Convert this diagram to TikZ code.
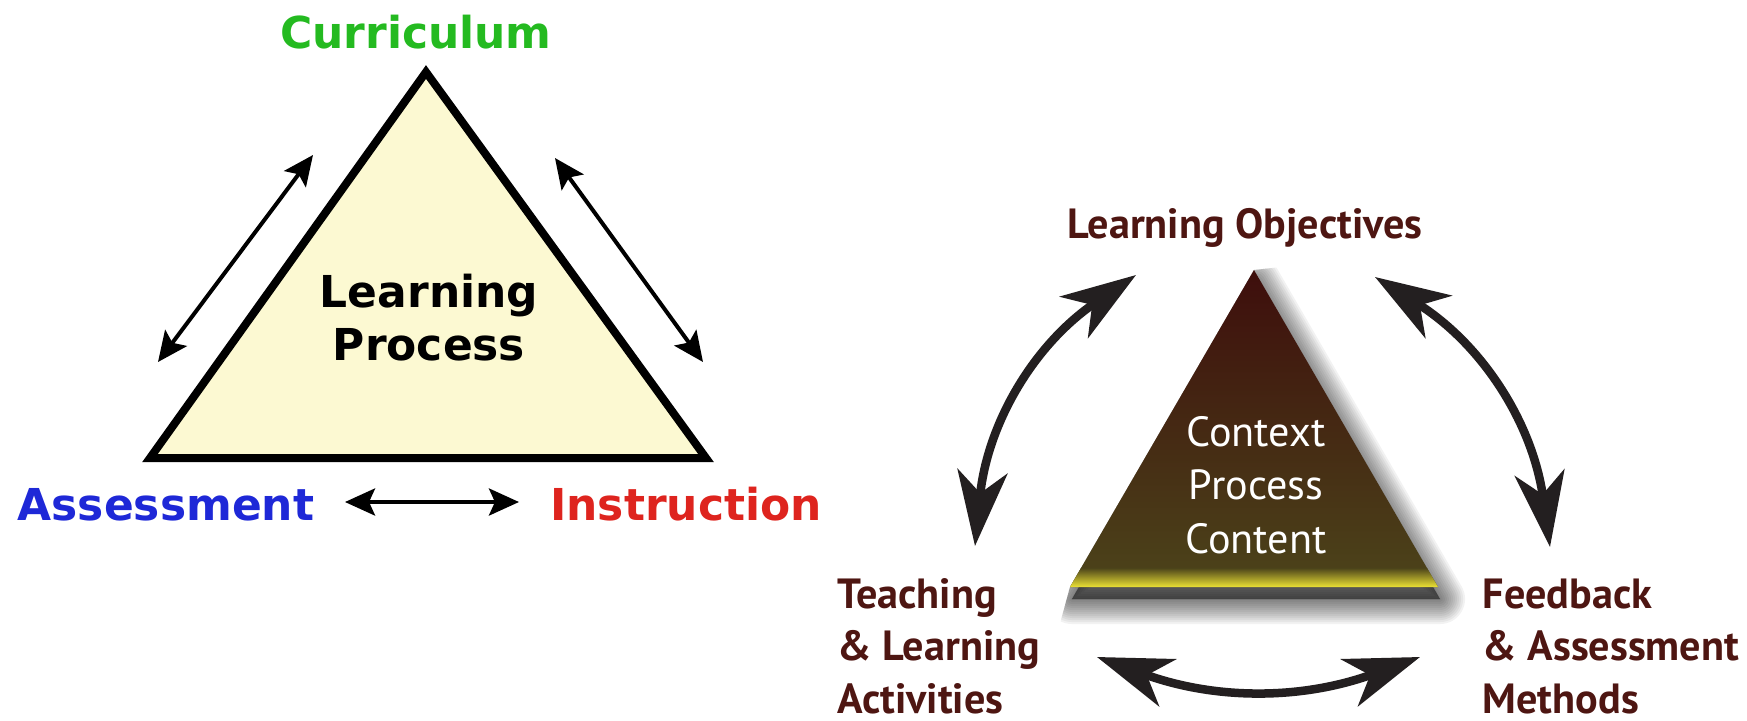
\documentclass[tikz,border=0pt]{standalone}
\usepackage{fontspec}
\setmainfont{PT Sans}
\newfontfamily\heavyfont{DejaVu Sans}
\usetikzlibrary{arrows.meta}
\definecolor{curgreen}{RGB}{36,186,32}
\definecolor{assblue}{RGB}{30,40,215}
\definecolor{insred}{RGB}{222,36,30}
\definecolor{paleyellow}{RGB}{252,249,210}
\definecolor{objbrown}{RGB}{78,22,18}
\definecolor{arrowgray}{RGB}{35,31,32}
\definecolor{trtop}{RGB}{62,14,12}
\definecolor{trmid}{RGB}{82,48,20}
\definecolor{trbot}{RGB}{76,68,26}
\definecolor{bandyellow}{RGB}{236,226,52}
\begin{document}
\begin{tikzpicture}[x = 0.01cm, y = -0.01cm,
        thinarrow/.style = {line width = 0.04cm, {Stealth[length=0.3cm, width=0.27cm, inset=0.06cm]}-{Stealth[length=0.3cm, width=0.27cm, inset=0.06cm]}},
        fatarrow/.style = {draw = arrowgray, line width = 0.085cm, {Stealth[length=0.75cm, width=0.5cm, inset=0.22cm]}-{Stealth[length=0.75cm, width=0.5cm, inset=0.22cm]}},
        lefttext/.style = {font = \heavyfont\bfseries\fontsize{12.5}{14.8}\selectfont, anchor = base},
        righttext/.style = {font = \bfseries\fontsize{12}{14.8}\selectfont, text = objbrown}]
            \useasboundingbox (0, 0) rectangle (1747, 720);
            \coordinate (ctop) at (426, 72);
            \coordinate (cleft) at (150, 458);
            \coordinate (cright) at (706, 458);
            \draw[line width = 0.08cm, fill = paleyellow, line join = miter] (ctop) -- (cleft) -- (cright) -- cycle;
            \node[lefttext, text = curgreen] (curr) at (416, 48) {Curriculum};
            \node[lefttext, align = center] (lproc) at (429, 360) {Learning\\Process};
            \node[lefttext, text = assblue] (assess) at (166, 520) {Assessment};
            \node[lefttext, text = insred] (instr) at (686, 520) {Instruction};
            \coordinate (la) at (158, 362); \coordinate (lb) at (313, 155);
            \coordinate (ra) at (555, 158); \coordinate (rb) at (703, 362);
            \coordinate (ba) at (345, 502); \coordinate (bb) at (519, 502);
            \draw[thinarrow] (la) -- (lb);
            \draw[thinarrow] (ra) -- (rb);
            \draw[thinarrow] (ba) -- (bb);
            \coordinate (rtop) at (1254, 270);
            \coordinate (rleft) at (1070, 587);
            \coordinate (rright) at (1438, 587);
            \begin{scope}
                \clip (rtop) -- (rleft) -- (1050, 660) -- (1520, 660) -- (1520, 240) -- cycle;
                \foreach \w in {2, 6, ..., 50}
                    {\draw[black, opacity = 0.05, fill opacity = 0.05, fill = black, line width = \w*0.01cm, line join = round]
                        ([shift = {(2, 12)}]rtop) -- ([shift = {(2, 12)}]rleft) -- ([shift = {(2, 12)}]rright) -- cycle;};
            \end{scope}
            \shade[top color = trtop, middle color = trmid, bottom color = trbot] (rtop) -- (rleft) -- (rright) -- cycle;
            \begin{scope}
                \clip (rtop) -- (rleft) -- (rright) -- cycle;
                \shade[top color = trbot, bottom color = bandyellow] (1060, 568) rectangle (1450, 587);
            \end{scope}
            \node[text = white, align = center, font = \fontsize{12}{15.1}\selectfont, anchor = base] (core) at (1256, 553) {Context\\Process\\Content};
            \node[righttext, anchor = base] (objectives) at (1245, 238) {Learning Objectives};
            \node[righttext, align = left, anchor = base west, inner sep = 0] (teach) at (837, 713) {Teaching\\\& Learning\\Activities};
            \node[righttext, align = left, anchor = base west, inner sep = 0] (feed) at (1482, 713) {Feedback\\\& Assessment\\Methods};
            \coordinate (lo) at (1136, 275); \coordinate (lt) at (975, 546);
            \coordinate (ro) at (1375, 277); \coordinate (rt) at (1550, 547);
            \coordinate (bo) at (1097, 657); \coordinate (bt) at (1420, 657);
            \draw[fatarrow] (lo) to[bend right = 25] (lt);
            \draw[fatarrow] (ro) to[bend left = 25] (rt);
            \draw[fatarrow] (bo) to[bend right = 20] (bt);
        \end{tikzpicture}
\end{document}
